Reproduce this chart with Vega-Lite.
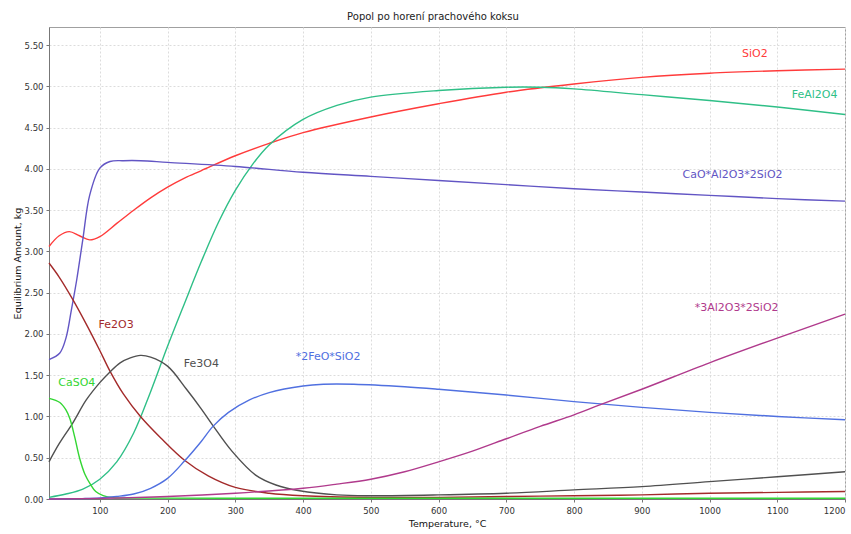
{
  "$schema": "https://vega.github.io/schema/vega-lite/v6.json",
  "width": 796,
  "height": 472,
  "autosize": {"type": "none"},
  "padding": {"left": 49, "top": 27, "right": 6, "bottom": 35},
  "background": "white",
  "title": {
    "text": "Popol po horení prachového koksu",
    "font": "DejaVu Sans",
    "fontSize": 10,
    "fontWeight": "normal",
    "color": "#222",
    "offset": 5,
    "dx": -14
  },
  "config": {
    "view": {"stroke": "#a0a0a0", "strokeWidth": 1},
    "axis": {
      "labelFont": "DejaVu Sans",
      "labelFontSize": 8.5,
      "labelColor": "#333",
      "titleFont": "DejaVu Sans",
      "titleFontSize": 9.5,
      "titleFontWeight": "normal",
      "titleColor": "#111",
      "domainColor": "#777",
      "tickColor": "#777",
      "tickSize": 3,
      "gridColor": "#dcdcdc",
      "gridDash": [2, 2],
      "gridWidth": 1
    }
  },
  "datasets": {
    "curves": [
      {"species": "SiO2", "T": 25, "amount": 3.06},
      {"species": "SiO2", "T": 40, "amount": 3.19},
      {"species": "SiO2", "T": 55, "amount": 3.24},
      {"species": "SiO2", "T": 70, "amount": 3.19},
      {"species": "SiO2", "T": 85, "amount": 3.14},
      {"species": "SiO2", "T": 100, "amount": 3.18},
      {"species": "SiO2", "T": 125, "amount": 3.34},
      {"species": "SiO2", "T": 150, "amount": 3.5},
      {"species": "SiO2", "T": 175, "amount": 3.65},
      {"species": "SiO2", "T": 200, "amount": 3.78},
      {"species": "SiO2", "T": 225, "amount": 3.89},
      {"species": "SiO2", "T": 250, "amount": 3.98},
      {"species": "SiO2", "T": 300, "amount": 4.16},
      {"species": "SiO2", "T": 350, "amount": 4.31},
      {"species": "SiO2", "T": 400, "amount": 4.44},
      {"species": "SiO2", "T": 500, "amount": 4.63},
      {"species": "SiO2", "T": 600, "amount": 4.79},
      {"species": "SiO2", "T": 700, "amount": 4.93},
      {"species": "SiO2", "T": 800, "amount": 5.03},
      {"species": "SiO2", "T": 900, "amount": 5.11},
      {"species": "SiO2", "T": 1000, "amount": 5.16},
      {"species": "SiO2", "T": 1100, "amount": 5.19},
      {"species": "SiO2", "T": 1200, "amount": 5.21},

      {"species": "FeAl2O4", "T": 25, "amount": 0.02},
      {"species": "FeAl2O4", "T": 50, "amount": 0.06},
      {"species": "FeAl2O4", "T": 75, "amount": 0.12},
      {"species": "FeAl2O4", "T": 100, "amount": 0.24},
      {"species": "FeAl2O4", "T": 125, "amount": 0.45},
      {"species": "FeAl2O4", "T": 150, "amount": 0.8},
      {"species": "FeAl2O4", "T": 175, "amount": 1.3},
      {"species": "FeAl2O4", "T": 200, "amount": 1.85},
      {"species": "FeAl2O4", "T": 225, "amount": 2.37},
      {"species": "FeAl2O4", "T": 250, "amount": 2.88},
      {"species": "FeAl2O4", "T": 275, "amount": 3.35},
      {"species": "FeAl2O4", "T": 300, "amount": 3.74},
      {"species": "FeAl2O4", "T": 325, "amount": 4.05},
      {"species": "FeAl2O4", "T": 350, "amount": 4.29},
      {"species": "FeAl2O4", "T": 400, "amount": 4.6},
      {"species": "FeAl2O4", "T": 450, "amount": 4.77},
      {"species": "FeAl2O4", "T": 500, "amount": 4.87},
      {"species": "FeAl2O4", "T": 600, "amount": 4.95},
      {"species": "FeAl2O4", "T": 700, "amount": 4.99},
      {"species": "FeAl2O4", "T": 750, "amount": 4.99},
      {"species": "FeAl2O4", "T": 800, "amount": 4.97},
      {"species": "FeAl2O4", "T": 900, "amount": 4.9},
      {"species": "FeAl2O4", "T": 1000, "amount": 4.83},
      {"species": "FeAl2O4", "T": 1100, "amount": 4.75},
      {"species": "FeAl2O4", "T": 1200, "amount": 4.66},

      {"species": "CaO*Al2O3*2SiO2", "T": 25, "amount": 1.69},
      {"species": "CaO*Al2O3*2SiO2", "T": 41, "amount": 1.77},
      {"species": "CaO*Al2O3*2SiO2", "T": 50, "amount": 1.95},
      {"species": "CaO*Al2O3*2SiO2", "T": 58, "amount": 2.29},
      {"species": "CaO*Al2O3*2SiO2", "T": 66, "amount": 2.66},
      {"species": "CaO*Al2O3*2SiO2", "T": 75, "amount": 3.15},
      {"species": "CaO*Al2O3*2SiO2", "T": 85, "amount": 3.68},
      {"species": "CaO*Al2O3*2SiO2", "T": 100, "amount": 4.01},
      {"species": "CaO*Al2O3*2SiO2", "T": 115, "amount": 4.09},
      {"species": "CaO*Al2O3*2SiO2", "T": 135, "amount": 4.1},
      {"species": "CaO*Al2O3*2SiO2", "T": 160, "amount": 4.1},
      {"species": "CaO*Al2O3*2SiO2", "T": 200, "amount": 4.08},
      {"species": "CaO*Al2O3*2SiO2", "T": 300, "amount": 4.03},
      {"species": "CaO*Al2O3*2SiO2", "T": 400, "amount": 3.96},
      {"species": "CaO*Al2O3*2SiO2", "T": 500, "amount": 3.91},
      {"species": "CaO*Al2O3*2SiO2", "T": 600, "amount": 3.86},
      {"species": "CaO*Al2O3*2SiO2", "T": 700, "amount": 3.81},
      {"species": "CaO*Al2O3*2SiO2", "T": 800, "amount": 3.76},
      {"species": "CaO*Al2O3*2SiO2", "T": 900, "amount": 3.72},
      {"species": "CaO*Al2O3*2SiO2", "T": 1000, "amount": 3.68},
      {"species": "CaO*Al2O3*2SiO2", "T": 1100, "amount": 3.64},
      {"species": "CaO*Al2O3*2SiO2", "T": 1200, "amount": 3.61},

      {"species": "Fe2O3", "T": 25, "amount": 2.86},
      {"species": "Fe2O3", "T": 40, "amount": 2.69},
      {"species": "Fe2O3", "T": 60, "amount": 2.42},
      {"species": "Fe2O3", "T": 80, "amount": 2.12},
      {"species": "Fe2O3", "T": 100, "amount": 1.8},
      {"species": "Fe2O3", "T": 115, "amount": 1.55},
      {"species": "Fe2O3", "T": 135, "amount": 1.27},
      {"species": "Fe2O3", "T": 160, "amount": 1.0},
      {"species": "Fe2O3", "T": 190, "amount": 0.74},
      {"species": "Fe2O3", "T": 225, "amount": 0.47},
      {"species": "Fe2O3", "T": 260, "amount": 0.28},
      {"species": "Fe2O3", "T": 300, "amount": 0.14},
      {"species": "Fe2O3", "T": 350, "amount": 0.07},
      {"species": "Fe2O3", "T": 400, "amount": 0.04},
      {"species": "Fe2O3", "T": 500, "amount": 0.02},
      {"species": "Fe2O3", "T": 600, "amount": 0.02},
      {"species": "Fe2O3", "T": 700, "amount": 0.03},
      {"species": "Fe2O3", "T": 800, "amount": 0.04},
      {"species": "Fe2O3", "T": 900, "amount": 0.05},
      {"species": "Fe2O3", "T": 1000, "amount": 0.07},
      {"species": "Fe2O3", "T": 1100, "amount": 0.08},
      {"species": "Fe2O3", "T": 1200, "amount": 0.09},

      {"species": "Fe3O4", "T": 25, "amount": 0.45},
      {"species": "Fe3O4", "T": 40, "amount": 0.67},
      {"species": "Fe3O4", "T": 60, "amount": 0.92},
      {"species": "Fe3O4", "T": 80, "amount": 1.2},
      {"species": "Fe3O4", "T": 100, "amount": 1.41},
      {"species": "Fe3O4", "T": 115, "amount": 1.54},
      {"species": "Fe3O4", "T": 130, "amount": 1.65},
      {"species": "Fe3O4", "T": 145, "amount": 1.71},
      {"species": "Fe3O4", "T": 160, "amount": 1.74},
      {"species": "Fe3O4", "T": 175, "amount": 1.72},
      {"species": "Fe3O4", "T": 200, "amount": 1.61},
      {"species": "Fe3O4", "T": 228, "amount": 1.33},
      {"species": "Fe3O4", "T": 250, "amount": 1.09},
      {"species": "Fe3O4", "T": 267, "amount": 0.89},
      {"species": "Fe3O4", "T": 295, "amount": 0.58},
      {"species": "Fe3O4", "T": 330, "amount": 0.29},
      {"species": "Fe3O4", "T": 360, "amount": 0.17},
      {"species": "Fe3O4", "T": 395, "amount": 0.1},
      {"species": "Fe3O4", "T": 450, "amount": 0.05},
      {"species": "Fe3O4", "T": 500, "amount": 0.04},
      {"species": "Fe3O4", "T": 600, "amount": 0.05},
      {"species": "Fe3O4", "T": 700, "amount": 0.07},
      {"species": "Fe3O4", "T": 800, "amount": 0.11},
      {"species": "Fe3O4", "T": 900, "amount": 0.15},
      {"species": "Fe3O4", "T": 1000, "amount": 0.21},
      {"species": "Fe3O4", "T": 1100, "amount": 0.27},
      {"species": "Fe3O4", "T": 1200, "amount": 0.33},

      {"species": "CaSO4", "T": 25, "amount": 1.22},
      {"species": "CaSO4", "T": 41, "amount": 1.17},
      {"species": "CaSO4", "T": 50, "amount": 1.08},
      {"species": "CaSO4", "T": 56, "amount": 0.97},
      {"species": "CaSO4", "T": 63, "amount": 0.75},
      {"species": "CaSO4", "T": 70, "amount": 0.5},
      {"species": "CaSO4", "T": 78, "amount": 0.3},
      {"species": "CaSO4", "T": 86, "amount": 0.18},
      {"species": "CaSO4", "T": 94, "amount": 0.09},
      {"species": "CaSO4", "T": 105, "amount": 0.04},
      {"species": "CaSO4", "T": 120, "amount": 0.015},
      {"species": "CaSO4", "T": 150, "amount": 0.01},
      {"species": "CaSO4", "T": 300, "amount": 0.01},
      {"species": "CaSO4", "T": 600, "amount": 0.01},
      {"species": "CaSO4", "T": 900, "amount": 0.01},
      {"species": "CaSO4", "T": 1200, "amount": 0.01},

      {"species": "*2FeO*SiO2", "T": 25, "amount": 0.0},
      {"species": "*2FeO*SiO2", "T": 75, "amount": 0.005},
      {"species": "*2FeO*SiO2", "T": 100, "amount": 0.012},
      {"species": "*2FeO*SiO2", "T": 125, "amount": 0.03},
      {"species": "*2FeO*SiO2", "T": 150, "amount": 0.06},
      {"species": "*2FeO*SiO2", "T": 175, "amount": 0.13},
      {"species": "*2FeO*SiO2", "T": 200, "amount": 0.25},
      {"species": "*2FeO*SiO2", "T": 225, "amount": 0.46},
      {"species": "*2FeO*SiO2", "T": 250, "amount": 0.7},
      {"species": "*2FeO*SiO2", "T": 267, "amount": 0.88},
      {"species": "*2FeO*SiO2", "T": 290, "amount": 1.05},
      {"species": "*2FeO*SiO2", "T": 321, "amount": 1.2},
      {"species": "*2FeO*SiO2", "T": 350, "amount": 1.29},
      {"species": "*2FeO*SiO2", "T": 400, "amount": 1.37},
      {"species": "*2FeO*SiO2", "T": 430, "amount": 1.39},
      {"species": "*2FeO*SiO2", "T": 475, "amount": 1.39},
      {"species": "*2FeO*SiO2", "T": 550, "amount": 1.36},
      {"species": "*2FeO*SiO2", "T": 600, "amount": 1.33},
      {"species": "*2FeO*SiO2", "T": 700, "amount": 1.26},
      {"species": "*2FeO*SiO2", "T": 800, "amount": 1.18},
      {"species": "*2FeO*SiO2", "T": 900, "amount": 1.11},
      {"species": "*2FeO*SiO2", "T": 1000, "amount": 1.05},
      {"species": "*2FeO*SiO2", "T": 1100, "amount": 1.0},
      {"species": "*2FeO*SiO2", "T": 1200, "amount": 0.96},

      {"species": "*3Al2O3*2SiO2", "T": 25, "amount": 0.0},
      {"species": "*3Al2O3*2SiO2", "T": 100, "amount": 0.008},
      {"species": "*3Al2O3*2SiO2", "T": 200, "amount": 0.03},
      {"species": "*3Al2O3*2SiO2", "T": 300, "amount": 0.07},
      {"species": "*3Al2O3*2SiO2", "T": 400, "amount": 0.13},
      {"species": "*3Al2O3*2SiO2", "T": 450, "amount": 0.18},
      {"species": "*3Al2O3*2SiO2", "T": 500, "amount": 0.24},
      {"species": "*3Al2O3*2SiO2", "T": 550, "amount": 0.33},
      {"species": "*3Al2O3*2SiO2", "T": 600, "amount": 0.45},
      {"species": "*3Al2O3*2SiO2", "T": 650, "amount": 0.58},
      {"species": "*3Al2O3*2SiO2", "T": 700, "amount": 0.73},
      {"species": "*3Al2O3*2SiO2", "T": 750, "amount": 0.88},
      {"species": "*3Al2O3*2SiO2", "T": 800, "amount": 1.02},
      {"species": "*3Al2O3*2SiO2", "T": 838, "amount": 1.14},
      {"species": "*3Al2O3*2SiO2", "T": 900, "amount": 1.33},
      {"species": "*3Al2O3*2SiO2", "T": 1000, "amount": 1.65},
      {"species": "*3Al2O3*2SiO2", "T": 1100, "amount": 1.95},
      {"species": "*3Al2O3*2SiO2", "T": 1200, "amount": 2.24}
    ],
    "labels": [
      {"species": "SiO2", "T": 1067, "amount": 5.39},
      {"species": "FeAl2O4", "T": 1155, "amount": 4.9},
      {"species": "CaO*Al2O3*2SiO2", "T": 1034, "amount": 3.93},
      {"species": "*3Al2O3*2SiO2", "T": 1040, "amount": 2.32},
      {"species": "*2FeO*SiO2", "T": 437, "amount": 1.72},
      {"species": "Fe3O4", "T": 250, "amount": 1.64},
      {"species": "Fe2O3", "T": 124, "amount": 2.11},
      {"species": "CaSO4", "T": 66, "amount": 1.41}
    ]
  },
  "encoding": {
    "x": {
      "field": "T",
      "type": "quantitative",
      "scale": {"domain": [25, 1200], "nice": false, "zero": false},
      "axis": {
        "title": "Temperature, °C",
        "values": [100, 200, 300, 400, 500, 600, 700, 800, 900, 1000, 1100, 1200],
        "format": "d",
        "labelPadding": 4,
        "titlePadding": 4
      }
    },
    "y": {
      "field": "amount",
      "type": "quantitative",
      "scale": {"domain": [0, 5.72], "nice": false},
      "axis": {
        "title": "Equilibrium Amount, kg",
        "values": [0, 0.5, 1, 1.5, 2, 2.5, 3, 3.5, 4, 4.5, 5, 5.5],
        "format": ".2f",
        "labelPadding": 3,
        "titlePadding": 2
      }
    },
    "color": {
      "field": "species",
      "type": "nominal",
      "legend": null,
      "scale": {
        "domain": ["SiO2", "FeAl2O4", "CaO*Al2O3*2SiO2", "*3Al2O3*2SiO2", "*2FeO*SiO2", "Fe3O4", "Fe2O3", "CaSO4"],
        "range": ["#ff3b3b", "#2fbf87", "#6255c4", "#b03a8c", "#5070e0", "#505050", "#a32a2a", "#33d633"]
      }
    }
  },
  "layer": [
    {
      "data": {"name": "curves"},
      "mark": {"type": "line", "interpolate": "catmull-rom", "strokeWidth": 1.4}
    },
    {
      "data": {"name": "labels"},
      "mark": {"type": "text", "font": "DejaVu Sans", "fontSize": 11, "align": "center", "baseline": "middle"},
      "encoding": {"text": {"field": "species"}}
    }
  ]
}
